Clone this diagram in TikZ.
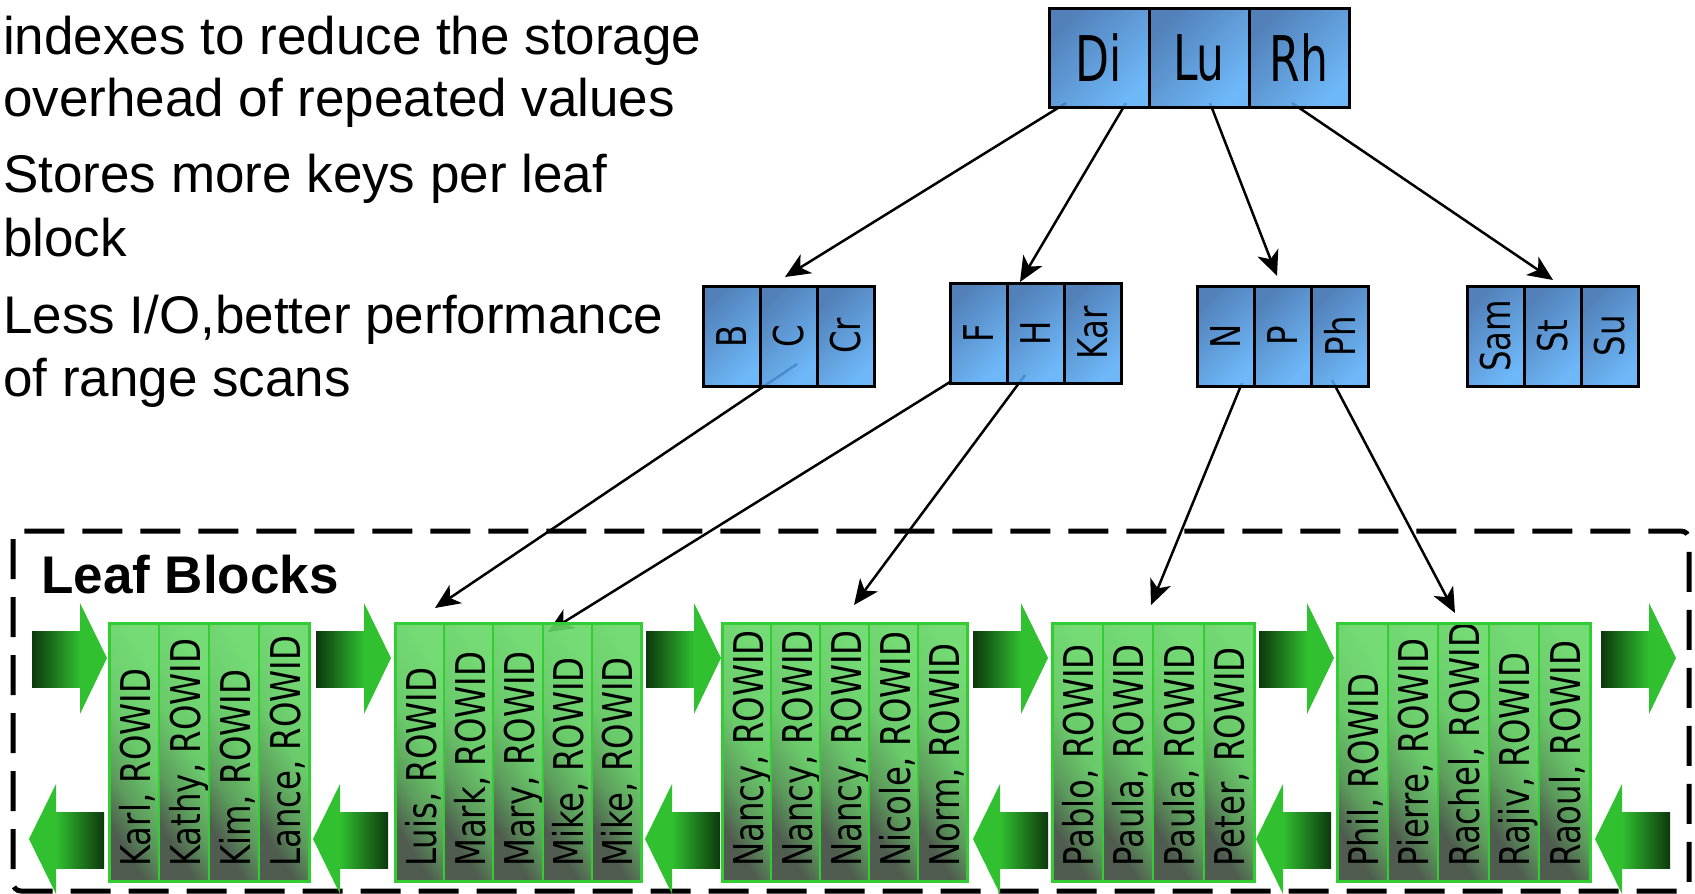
\documentclass[tikz,border=0pt]{standalone}
\usepackage{fontspec}
\setmainfont{Liberation Sans}
\newfontfamily\cellfont[FakeStretch=0.79]{DejaVu Sans}
\newfontfamily\rootfont[FakeStretch=0.7]{DejaVu Sans}
\usetikzlibrary{arrows.meta,calc}
\definecolor{bluedark}{HTML}{3A6FAF}
\definecolor{bluelight}{HTML}{5AAEF8}
\definecolor{gline}{HTML}{33CC33}
\definecolor{glight}{HTML}{66D866}
\definecolor{gmid}{HTML}{5AC45A}
\definecolor{gmidd}{HTML}{4A904A}
\definecolor{gdark}{HTML}{3C4A3C}
\definecolor{adark}{HTML}{0C380C}
\definecolor{abright}{HTML}{30C030}
\pgfdeclareverticalshading{leafshade}{100bp}{color(0bp)=(gdark); color(27bp)=(gdark); color(38bp)=(gmidd); color(52bp)=(gmid); color(75bp)=(glight); color(100bp)=(glight)}
\begin{document}
\begin{tikzpicture}[x=1pt,y=-1pt,
  bodytext/.style={anchor=base west, inner sep=0pt, font=\fontsize{53}{62}\selectfont},
  bluecell/.style={draw=black, line width=3pt, top color=bluedark, bottom color=bluelight, shading angle=45, fill opacity=0.88, inner sep=0pt, outer sep=0pt, anchor=north west},
  roottext/.style={inner sep=0pt, font=\rootfont\fontsize{63}{63}\selectfont},
  midtext/.style={inner sep=0pt, rotate=90, font=\cellfont\fontsize{41}{41}\selectfont},
  leafcell/.style={draw=gline, line width=2pt, shading=leafshade, shading angle=-58, fill opacity=0.9, inner sep=0pt, outer sep=0pt, anchor=north west, minimum height=258pt},
  leaftext/.style={inner sep=0pt, rotate=90, anchor=base west, font=\cellfont\fontsize{41}{41}\selectfont},
  blockline/.style={draw=gline, line width=3pt},
  conn/.style={line width=2.5pt, -{Stealth[length=25pt,width=22pt,inset=7pt]}},
  dashbox/.style={line width=5pt, dash pattern=on 40pt off 18pt, rounded corners=8pt}
]
\useasboundingbox (0,0) rectangle (1695,894);

% left text
\node[bodytext] (t1) at (3,54) {indexes to reduce the storage};
\node[bodytext] (t2) at (3,116) {overhead of repeated values};
\node[bodytext] (t3) at (3,192) {Stores more keys per leaf};
\node[bodytext] (t4) at (3,256) {block};
\node[bodytext] (t5) at (3,333) {Less I/O,better performance};
\node[bodytext] (t6) at (3,396) {of range scans};

% dashed leaf area
\draw[dashbox] (13,531) rectangle (1689,891);
\node[anchor=base west, inner sep=0pt, font=\bfseries\fontsize{53}{53}\selectfont] (leaflabel) at (41,593) {Leaf Blocks};

% connector end points
\coordinate (sA) at (1066,103); \coordinate (eA) at (785,277);
\coordinate (sB) at (1126,103); \coordinate (eB) at (1020,282);
\coordinate (sC) at (1210,103); \coordinate (eC) at (1277,276);
\coordinate (sD) at (1292,103); \coordinate (eD) at (1553,280);
\coordinate (sE) at (797,364);  \coordinate (eE) at (435,608);
\coordinate (sF) at (950,382);  \coordinate (eF) at (548,632);
\coordinate (sG) at (1025,375); \coordinate (eG) at (854,605);
\coordinate (sH) at (1242,383); \coordinate (eH) at (1151,605);
\coordinate (sI) at (1332,380); \coordinate (eI) at (1455,613);
\foreach \s in {A,B,C,D,E,F,G,H,I} {\draw[conn] (s\s) -- (e\s);}

% root
\foreach \lab [count=\i] in {Di,Lu,Rh} {
  \node[bluecell, minimum width=100pt, minimum height=99pt] (r\i) at ({1049+(\i-1)*100},8) {};
  \node[roottext] (rt\i) at (r\i.center) {\lab};
}
% second level
\foreach \gx/\gy/\labs [count=\g] in {703/286/{B,C,Cr}, 950/283/{F,H,Kar}, 1197/286/{N,P,Ph}, 1467/286/{Sam,St,Su}} {
  \foreach \lab [count=\i] in \labs {
    \node[bluecell, minimum width=57pt, minimum height=100pt] (g\g-\i) at ({\gx+(\i-1)*57},\gy) {};
    \node[midtext] (gt\g-\i) at (g\g-\i.center) {\lab};
  }
}

% leaf blocks
\foreach \bx/\bw/\bn/\names [count=\b] in {109/50/4/{Karl,Kathy,Kim,Lance}, 395/49.2/5/{Luis,Mark,Mary,Mike,Mike}, 722/49/5/{Nancy,Nancy,Nancy,Nicole,Norm}, 1052/50.5/4/{Pablo,Paula,Paula,Peter}, 1337/50.6/5/{Phil,Pierre,Rachel,Rajiv,Raoul}} {
  \foreach \nm [count=\i] in \names {
    \node[leafcell, minimum width=\bw pt] (b\b-\i) at ({\bx+(\i-1)*\bw},623) {};
    \node[leaftext] (bt\b-\i) at ({\bx+(\i-1)*\bw+41},867) {\nm, ROWID};
  }
  \draw[blockline] (\bx,623) rectangle ({\bx+\bn*\bw},881);
}

% green arrows, right
\foreach \x in {32,316,646,973,1259,1601} {
  \shade[left color=adark, right color=abright] (\x,631) rectangle ({\x+48},687);
  \fill[abright] ({\x+48},603) -- ({\x+75},658) -- ({\x+48},714) -- cycle;
}
% green arrows, left
\foreach \x in {29,313,645,973,1256,1595} {
  \fill[abright] (\x,839) -- ({\x+27},784) -- ({\x+27},894) -- cycle;
  \shade[left color=abright, right color=adark] ({\x+27},812) rectangle ({\x+75},868);
}
\end{tikzpicture}
\end{document}
